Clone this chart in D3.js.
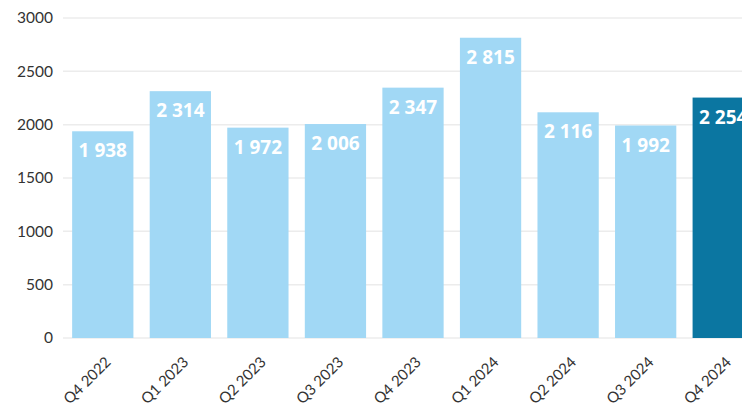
<!DOCTYPE html>
<html>
<head>
<meta charset="utf-8">
<script src="https://cdn.jsdelivr.net/npm/d3@7"></script>
<style>
  body { margin: 0; background: #fff; }
  svg { display: block; }
</style>
</head>
<body>
<svg id="chart" width="742" height="410"></svg>
<script>
var quarters = ["Q4 2022", "Q1 2023", "Q2 2023", "Q3 2023", "Q4 2023", "Q1 2024", "Q2 2024", "Q3 2024", "Q4 2024"];
var counts = [1938, 2314, 1972, 2006, 2347, 2815, 2116, 1992, 2254];
var yTicks = [0, 500, 1000, 1500, 2000, 2500, 3000];

var data = quarters.map(function(q, i) { return {q: q, v: counts[i]}; });

var svg = d3.select("#chart");

var x = d3.scaleBand()
    .domain(quarters)
    .range([64, 762])
    .paddingInner(0.21)
    .paddingOuter(0.105);

var y = d3.scaleLinear()
    .domain([0, 3000])
    .range([338, 18]);

// gridlines
svg.selectAll(".grid")
    .data(yTicks)
    .enter().append("line")
    .attr("class", "grid")
    .attr("x1", 63)
    .attr("x2", 742)
    .attr("y1", function(d) { return y(d); })
    .attr("y2", function(d) { return y(d); })
    .attr("stroke", "#ececec")
    .attr("stroke-width", 1.5);

// y axis labels
var yAxis = d3.axisLeft(y).tickValues(yTicks).tickFormat(d3.format("d")).tickSize(0).tickPadding(0);
svg.append("g")
    .attr("transform", "translate(53,0)")
    .call(yAxis)
    .call(function(g) { g.select(".domain").remove(); })
    .selectAll("text")
    .attr("font-family", "Lato, sans-serif")
    .attr("font-size", "15.5px")
    .attr("fill", "#333");

// bars
svg.selectAll(".bar")
    .data(data)
    .enter().append("rect")
    .attr("class", "bar")
    .attr("x", function(d) { return x(d.q); })
    .attr("y", function(d) { return y(d.v); })
    .attr("width", x.bandwidth())
    .attr("height", function(d) { return y(0) - y(d.v); })
    .attr("fill", function(d, i) { return i == data.length - 1 ? "#0b76a1" : "#a1d8f5"; });

// value labels inside the bars (last one runs off the edge, as in the original)
var fmt = function(v) { return d3.format(",")(v).replace(/,/g, " "); };
svg.selectAll(".val")
    .data(data)
    .enter().append("text")
    .attr("class", "val")
    .attr("x", function(d) { return x(d.q) + x.bandwidth() / 2; })
    .attr("y", function(d) { return y(d.v) + 26; })
    .attr("text-anchor", "middle")
    .attr("font-family", "'Open Sans', sans-serif")
    .attr("font-weight", "bold")
    .attr("font-size", "19px")
    .attr("fill", "#fff")
    .text(function(d) { return fmt(d.v); });

// x axis labels
var xAxis = d3.axisBottom(x).tickSize(0).tickPadding(0);
svg.append("g")
    .attr("transform", "translate(0,338)")
    .call(xAxis)
    .call(function(g) { g.select(".domain").remove(); })
    .selectAll("text")
    .attr("font-family", "Lato, sans-serif")
    .attr("font-size", "15px")
    .attr("fill", "#333")
    .attr("text-anchor", "end")
    .attr("dy", null)
    .attr("transform", "translate(9,25) rotate(-45)");
</script>
</body>
</html>
